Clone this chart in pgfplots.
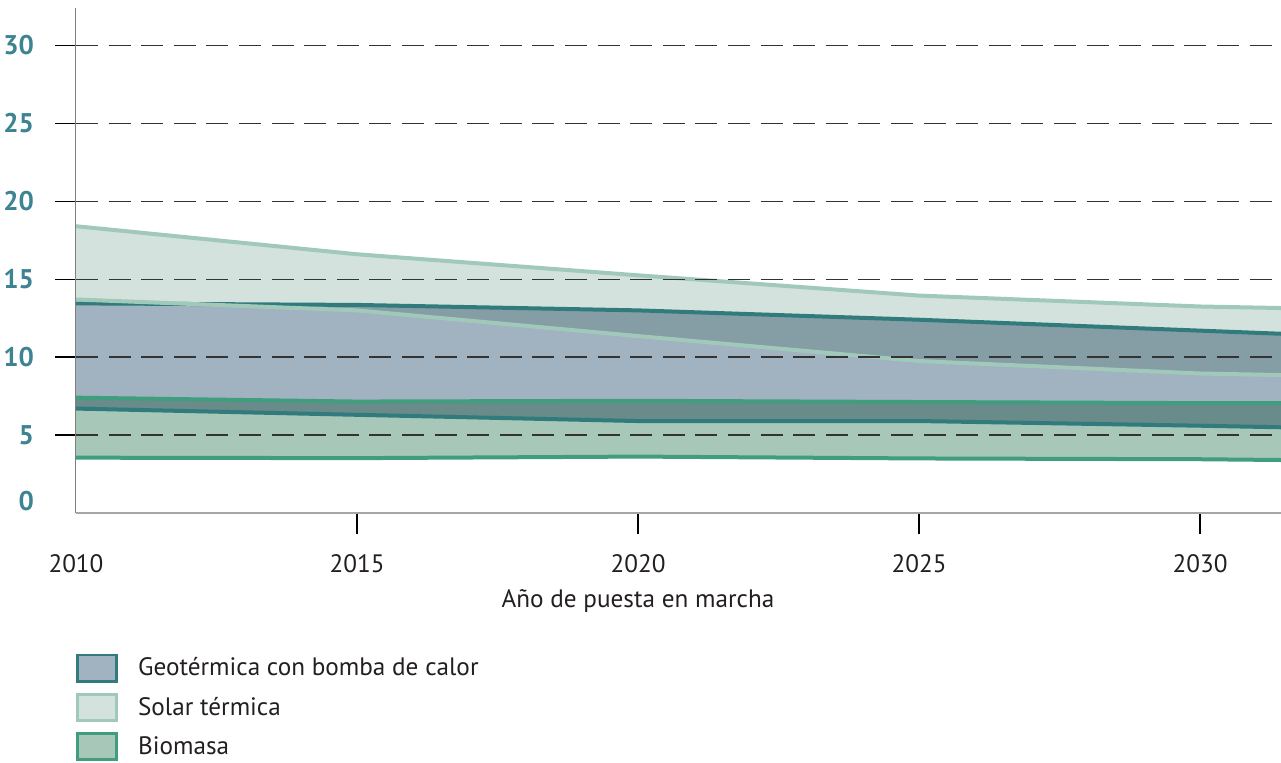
\documentclass[border=0pt]{standalone}
\usepackage{pgfplots}
\pgfplotsset{compat=1.18}
\usepackage{fontspec}
\setmainfont{PT Sans}

\definecolor{geofill}{HTML}{A1B2C0}
\definecolor{geoline}{HTML}{317B7C}
\definecolor{solfill}{HTML}{D3E2DC}
\definecolor{solline}{HTML}{A0C9B9}
\definecolor{biofill}{HTML}{A7C8B8}
\definecolor{bioline}{HTML}{409E7F}
\definecolor{ytick}{HTML}{3D8392}
\definecolor{txt}{HTML}{231F20}

\begin{document}
\begin{tikzpicture}
\path[use as bounding box] (-38pt,-124.5pt) rectangle (602.5pt,256.5pt);
\begin{axis}[
	scale only axis,
	width=602.5pt, height=252.5pt,
	xmin=2010, xmax=2031.44,
	ymin=0, ymax=32.4,
	axis x line*=bottom, axis y line*=left,
	axis line style={-},
	x axis line style={draw=black!35, line width=0.8pt},
	y axis line style={draw=black!50, line width=0.5pt},
	tick align=outside,
	major tick length=10.5pt,
	tick style={black, line width=0.7pt},
	xtick={2015,2020,2025,2030},
	extra x ticks={2010},
	extra x tick style={major tick style={draw=none}},
	ytick={5,10,...,30},
	extra y ticks={0},
	extra y tick style={major tick style={draw=none}, grid=none, yticklabel style={yshift=6pt}},
	ymajorgrids,
	grid style={black!80, line width=0.7pt, dash pattern=on 11pt off 5.3pt},
	axis on top,
	x tick label style={/pgf/number format/1000 sep={}, font=\fontsize{12.6}{15}\selectfont, text=txt, yshift=-6.5pt},
	y tick label style={font=\fontsize{13.5}{15}\selectfont\bfseries, text=ytick, xshift=-7pt},
	/pgf/number format/assume math mode=true,
	xlabel={Año de puesta en marcha},
	xlabel style={font=\fontsize{12.6}{15}\selectfont, text=txt, at={(axis description cs:0.4664,-0.174)}, anchor=center},
	legend style={at={(rel axis cs:0.0,-0.278)}, anchor=north west, draw=none, fill=none,
		font=\fontsize{12.6}{15}\selectfont, text=txt, row sep=5pt, inner sep=0pt},
	legend cell align=left,
	legend image code/.code={\draw[#1, line width=1.3pt] (1pt,-6.6pt) rectangle (20.5pt,6.6pt); \path (29pt,0pt);},
]
\addlegendimage{draw=geoline, fill=geofill}
\addlegendentry{Geotérmica con bomba de calor}
\addlegendimage{draw=solline, fill=solfill}
\addlegendentry{Solar térmica}
\addlegendimage{draw=bioline, fill=biofill}
\addlegendentry{Biomasa}

% bands: upper edge left to right, then lower edge right to left
\addplot[fill=biofill, draw=none, blend mode=multiply, forget plot] coordinates {
	(2010,7.4) (2015,7.15) (2020,7.2) (2025,7.12) (2030,7.05) (2031.44,7.05)
	(2031.44,3.4) (2030,3.45) (2025,3.5) (2020,3.62) (2015,3.52) (2010,3.55)};
\addplot[fill=geofill, draw=none, blend mode=multiply, forget plot] coordinates {
	(2010,13.45) (2015,13.35) (2020,13.0) (2025,12.4) (2030,11.7) (2031.44,11.5)
	(2031.44,5.5) (2030,5.6) (2025,5.9) (2020,5.9) (2015,6.3) (2010,6.7)};
\addplot[fill=solfill, draw=none, blend mode=multiply, forget plot] coordinates {
	(2010,18.4) (2015,16.6) (2020,15.25) (2025,13.95) (2030,13.25) (2031.44,13.15)
	(2031.44,8.85) (2030,8.95) (2025,9.75) (2020,11.35) (2015,13.0) (2010,13.7)};

% edges
\addplot[bioline, line width=2pt, forget plot] coordinates {(2010,7.4) (2015,7.15) (2020,7.2) (2025,7.12) (2030,7.05) (2031.44,7.05)};
\addplot[bioline, line width=2pt, forget plot] coordinates {(2010,3.55) (2015,3.52) (2020,3.62) (2025,3.5) (2030,3.45) (2031.44,3.4)};
\addplot[geoline, line width=2pt, forget plot] coordinates {(2010,13.45) (2015,13.35) (2020,13.0) (2025,12.4) (2030,11.7) (2031.44,11.5)};
\addplot[geoline, line width=2pt, forget plot] coordinates {(2010,6.7) (2015,6.3) (2020,5.9) (2025,5.9) (2030,5.6) (2031.44,5.5)};
\addplot[solline, line width=2pt, forget plot] coordinates {(2010,18.4) (2015,16.6) (2020,15.25) (2025,13.95) (2030,13.25) (2031.44,13.15)};
\addplot[solline, line width=2pt, forget plot] coordinates {(2010,13.7) (2015,13.0) (2020,11.35) (2025,9.75) (2030,8.95) (2031.44,8.85)};
\end{axis}
\end{tikzpicture}
\end{document}
